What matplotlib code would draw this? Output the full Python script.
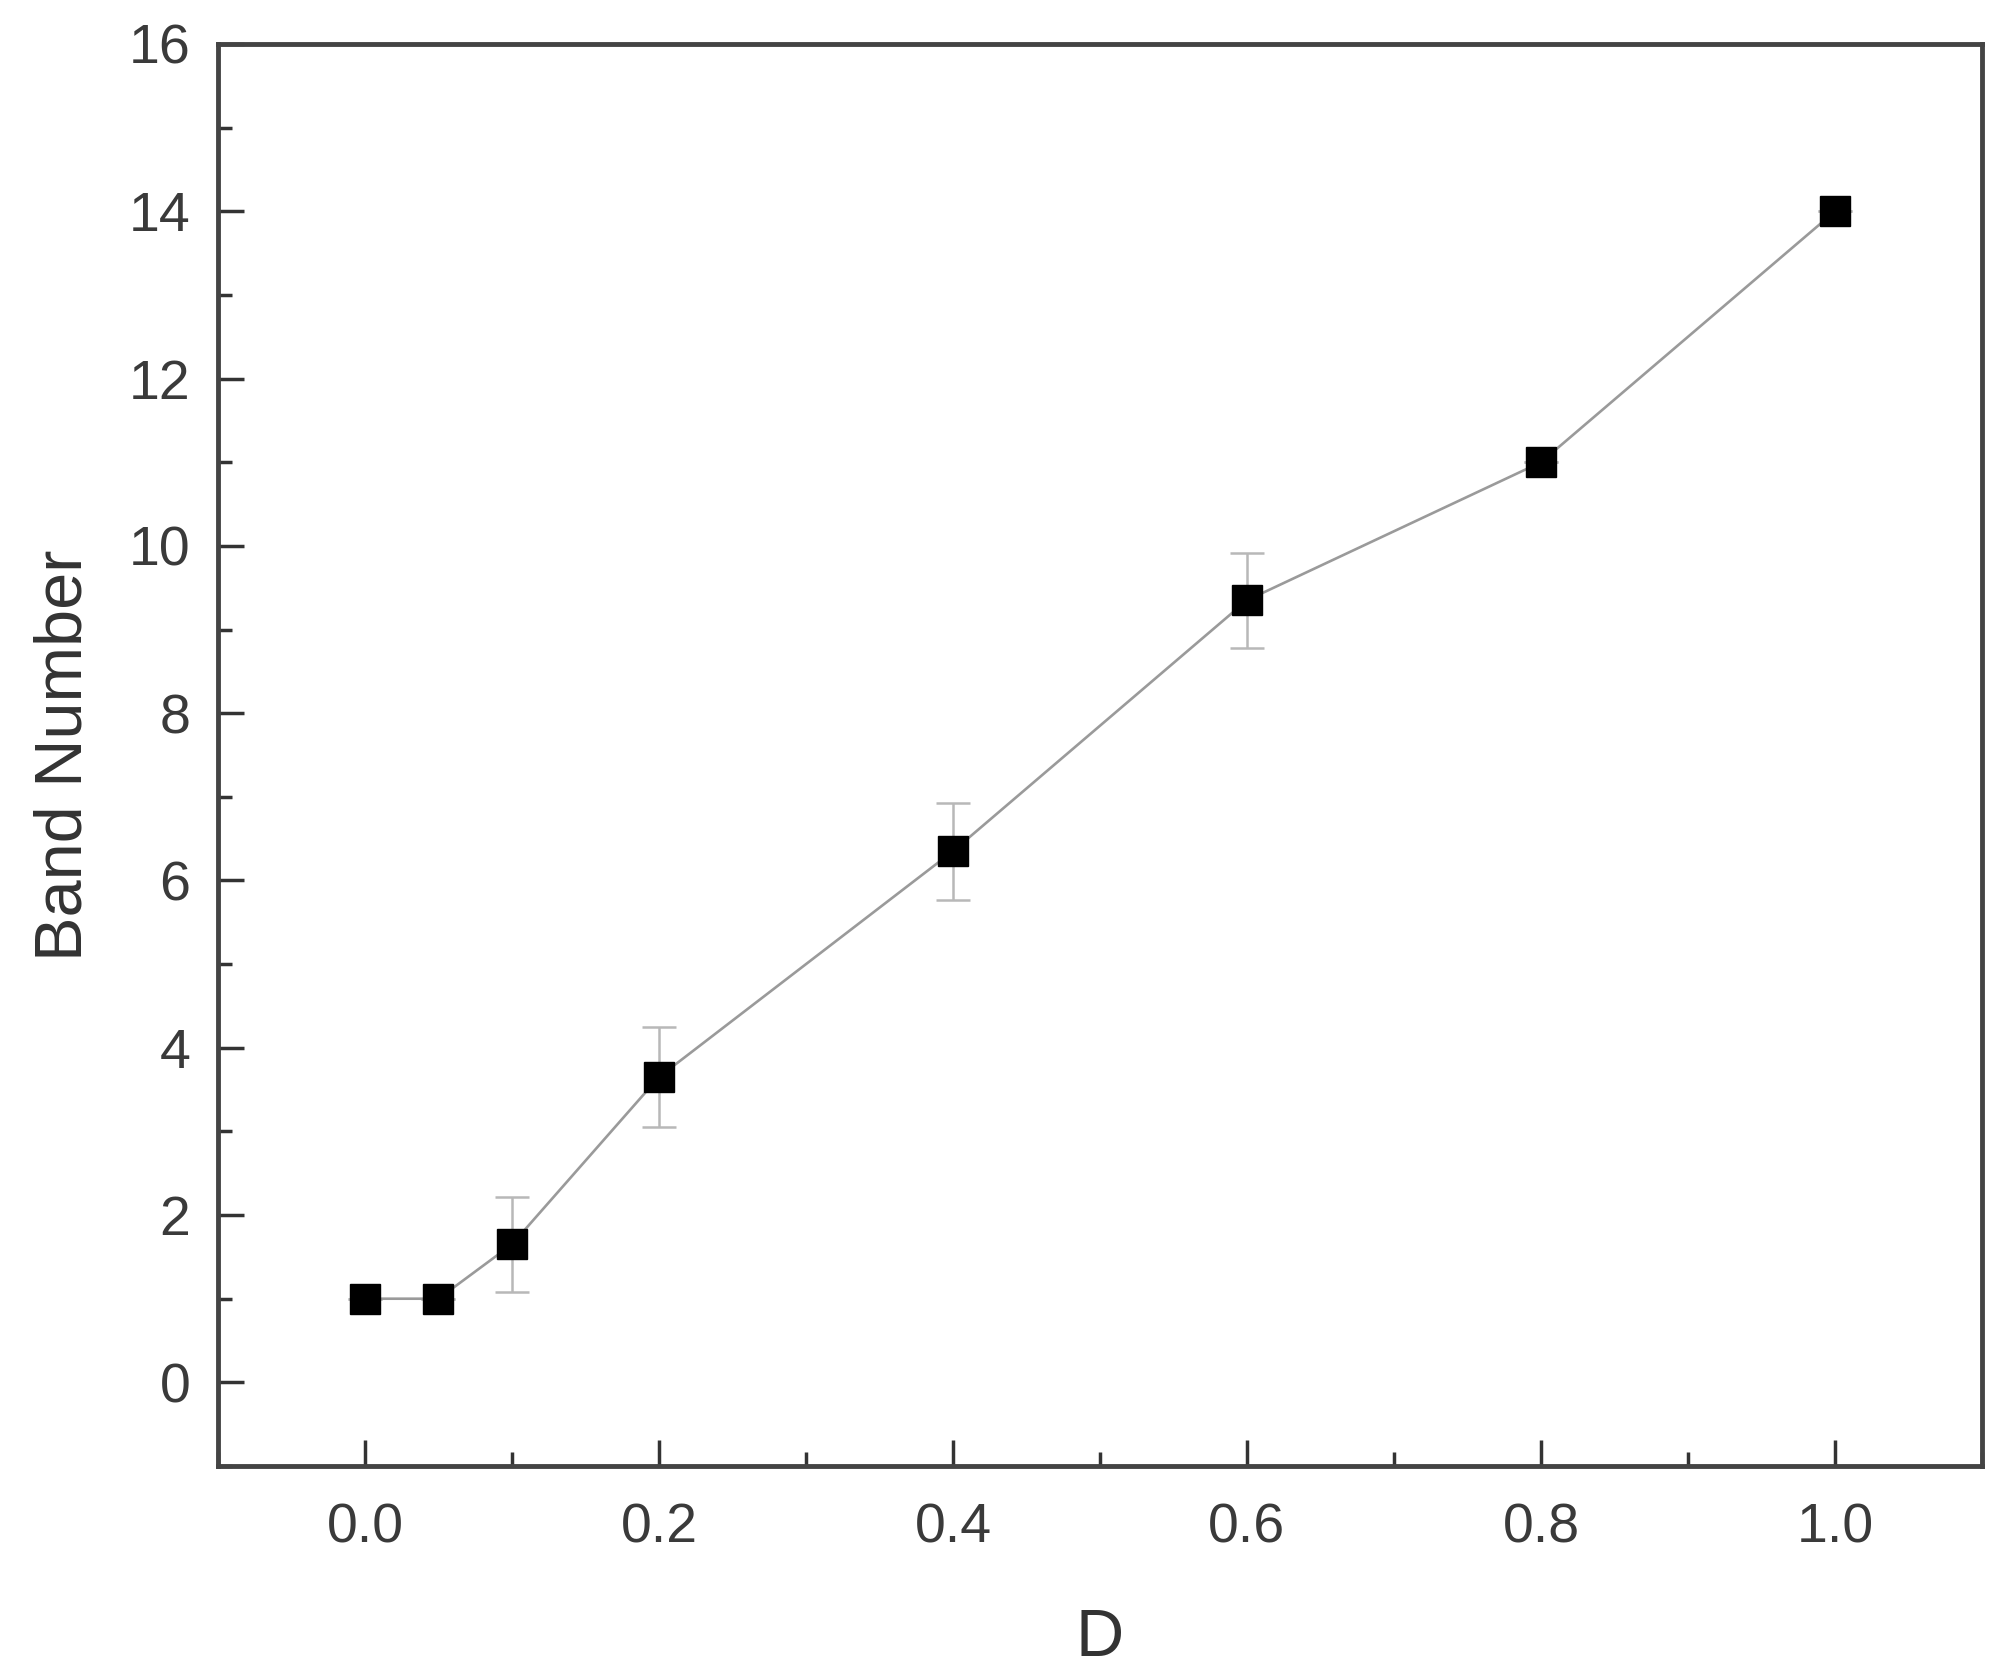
import matplotlib
matplotlib.use("Agg")
import matplotlib.pyplot as plt
from matplotlib.ticker import MultipleLocator

# data
d_values = [0.0, 0.05, 0.1, 0.2, 0.4, 0.6, 0.8, 1.0]
band_number = [1.0, 1.0, 1.65, 3.65, 6.35, 9.35, 11.0, 14.0]
band_error = [0.0, 0.0, 0.57, 0.6, 0.58, 0.57, 0.0, 0.0]
x_ticks = [0.0, 0.2, 0.4, 0.6, 0.8, 1.0]
x_tick_labels = ["0.0", "0.2", "0.4", "0.6", "0.8", "1.0"]

plt.rcParams["font.family"] = ["Liberation Sans", "DejaVu Sans"]

fig = plt.figure(figsize=(20.08, 16.76), dpi=100)
ax = fig.add_axes([218 / 2008, 1 - 1466 / 1676, (1982 - 218) / 2008, (1466 - 44) / 1676])

ax.errorbar(d_values, band_number, yerr=band_error, fmt="none",
            ecolor="#b8b8b8", elinewidth=1.8, capsize=12, capthick=1.8, zorder=2)
ax.plot(d_values, band_number, color="#9a9a9a", linewidth=1.9, zorder=3)
ax.plot(d_values, band_number, linestyle="none", marker="s", markersize=21,
        color="black", zorder=4)

ax.set_xlim(-0.1, 1.1)
ax.set_ylim(-1, 16)
ax.xaxis.set_minor_locator(MultipleLocator(0.1))
ax.yaxis.set_minor_locator(MultipleLocator(1))
ax.set_xticks(x_ticks)
ax.set_xticklabels(x_tick_labels)
ax.set_yticks(range(0, 17, 2))

ax.tick_params(which="major", direction="in", length=19, width=2.5, color="#333333",
               labelsize=40, labelcolor="#3a3a3a")
ax.tick_params(axis="x", which="major", pad=26)
ax.tick_params(axis="y", which="major", pad=20)
ax.tick_params(which="minor", direction="in", length=10, width=2.5, color="#333333")
ax.tick_params(top=False, right=False)
for spine in ax.spines.values():
    spine.set_linewidth(3.5)
    spine.set_color("#444444")

ax.set_xlabel("D", fontsize=48, color="#333333", labelpad=39)
ax.set_ylabel("Band Number", fontsize=48, color="#333333", labelpad=24)

fig.savefig("out.png", dpi=100)
